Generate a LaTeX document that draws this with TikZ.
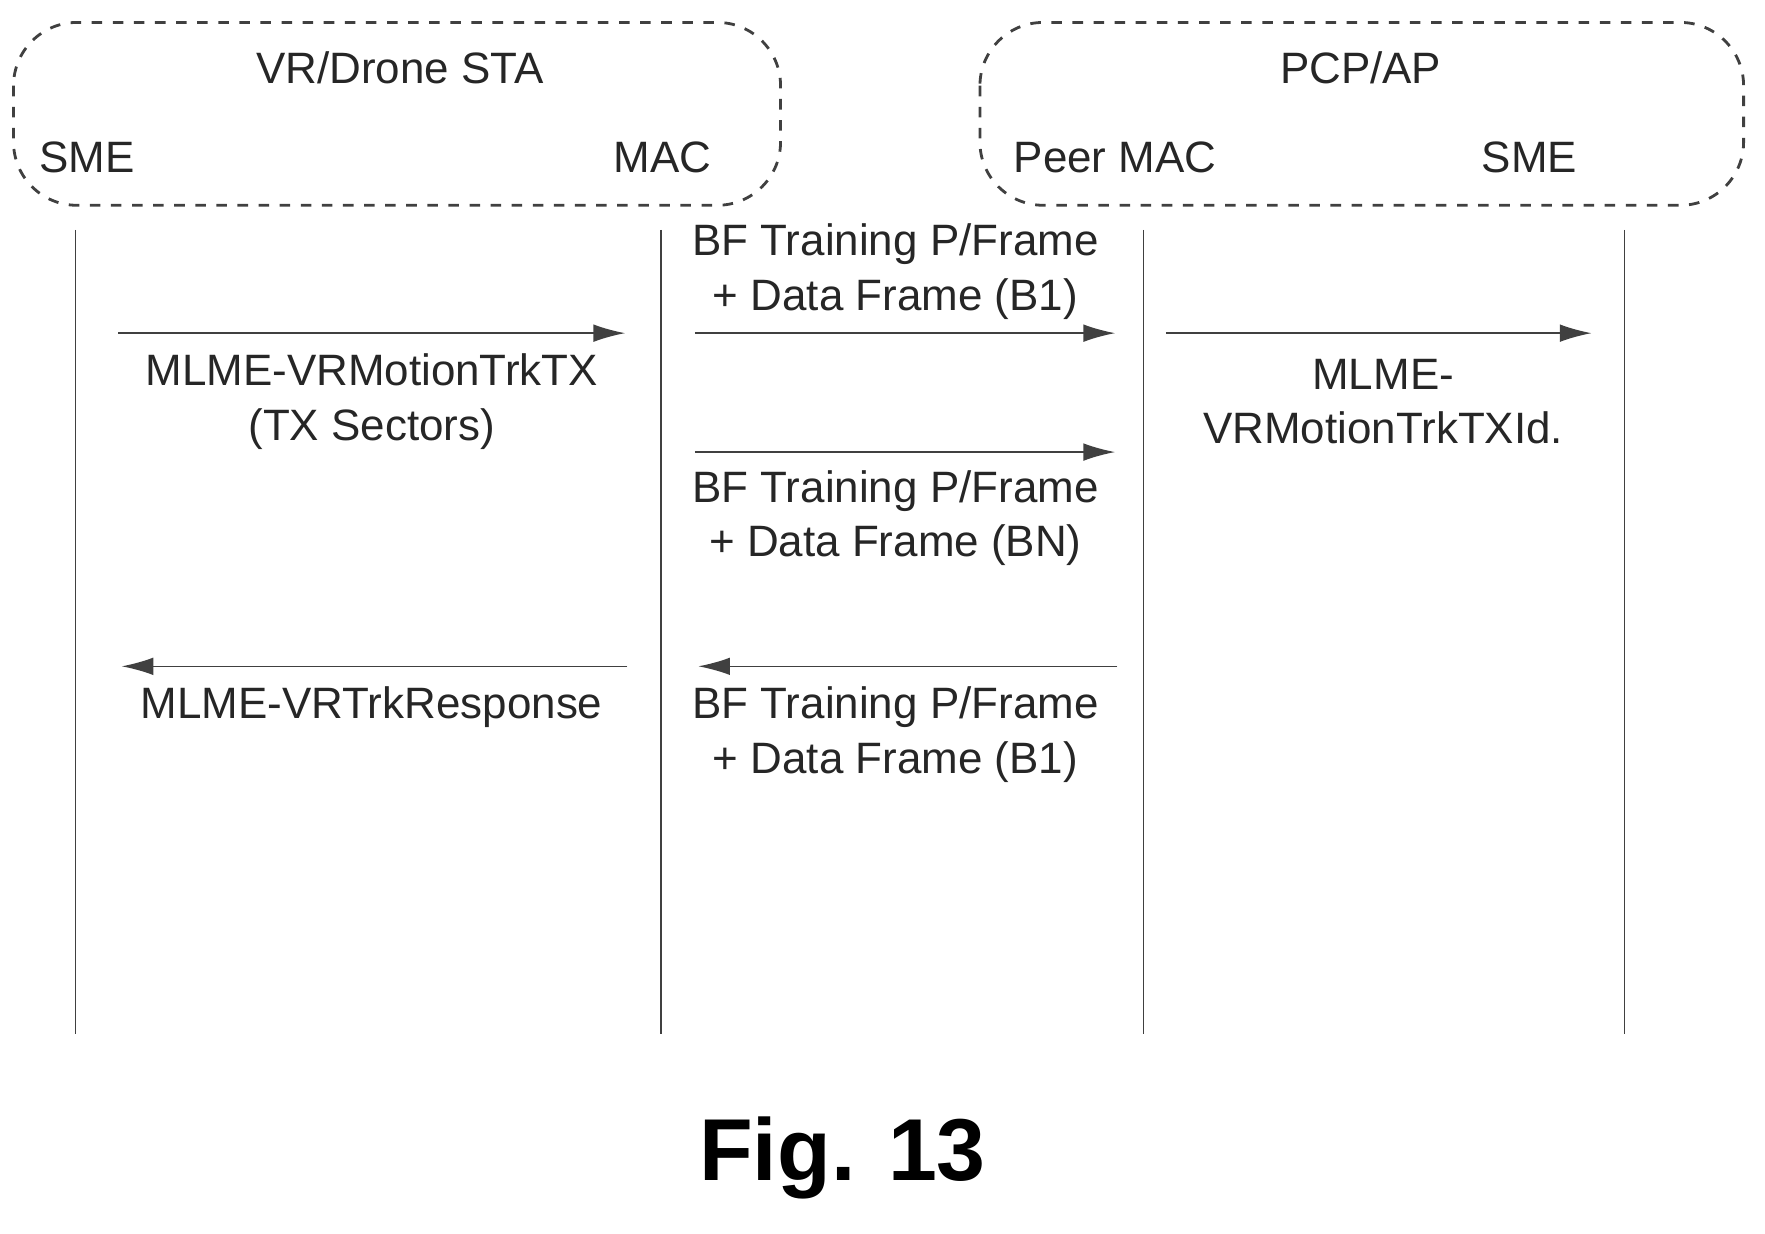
\documentclass[tikz,border=0pt]{standalone}
\usepackage{fontspec}
\setmainfont{Liberation Sans}
\usetikzlibrary{arrows.meta}
\definecolor{lnGray}{HTML}{404040}

\begin{document}
\begin{tikzpicture}[x=0.01126cm,y=-0.01122cm,>={Latex[length=9pt,width=5pt]}]
  \tikzstyle{entity}=[draw=lnGray,dashed,rounded corners=18pt,thick]
  \tikzstyle{lbl}=[font=\fontsize{12.5}{15.5}\selectfont,align=center,text=black!85]
  \tikzstyle{life}=[draw=lnGray,thin]
  \tikzstyle{msg}=[->,draw=lnGray,thin,color=lnGray]
  \useasboundingbox (0,0) rectangle (1567,1100);
  % entity boxes
  \draw[entity] (12,20) rectangle (693,183);
  \draw[entity] (870,20) rectangle (1548,183);
  \node[lbl] (sta) at (355,60) {VR/Drone STA};
  \node[lbl] (ap) at (1208,60) {PCP/AP};
  \node[lbl] (sme1) at (77,140) {SME};
  \node[lbl] (mac1) at (588,140) {MAC};
  \node[lbl] (mac2) at (990,140) {Peer MAC};
  \node[lbl] (sme2) at (1358,140) {SME};
  % lifelines
  \foreach \n/\x in {a/67,b/587,c/1015,d/1442} {
    \coordinate (\n top) at (\x,205);
    \coordinate (\n bot) at (\x,922);
    \draw[life] (\n top) -- (\n bot);
  }
  % message end points
  \coordinate (m1s) at (105,297);  \coordinate (m1e) at (555,297);
  \coordinate (m2s) at (617,297);  \coordinate (m2e) at (990,297);
  \coordinate (m3s) at (1035,297); \coordinate (m3e) at (1413,297);
  \coordinate (m4s) at (617,403);  \coordinate (m4e) at (990,403);
  \coordinate (m5s) at (557,594);  \coordinate (m5e) at (108,594);
  \coordinate (m6s) at (992,594);  \coordinate (m6e) at (620,594);
  \draw[msg] (m1s) -- (m1e);
  \draw[msg] (m2s) -- (m2e);
  \draw[msg] (m3s) -- (m3e);
  \draw[msg] (m4s) -- (m4e);
  \draw[msg] (m5s) -- (m5e);
  \draw[msg] (m6s) -- (m6e);
  % message labels
  \node[lbl] (req) at (330,358) {MLME-VRMotionTrkTX\\(TX Sectors)};
  \node[lbl] (bf1) at (795,242) {BF Training P/Frame\\+ Data Frame (B1)};
  \node[lbl] (ind) at (1228,358) {MLME-\\VRMotionTrkTXId.};
  \node[lbl] (bfn) at (795,462) {BF Training P/Frame\\+ Data Frame (BN)};
  \node[lbl] (rsp) at (330,630) {MLME-VRTrkResponse};
  \node[lbl] (bf2) at (795,655) {BF Training P/Frame\\+ Data Frame (B1)};
  \node[font=\fontsize{25}{30}\selectfont\bfseries] (fig) at (748,1032) {Fig. 13};
\end{tikzpicture}
\end{document}
